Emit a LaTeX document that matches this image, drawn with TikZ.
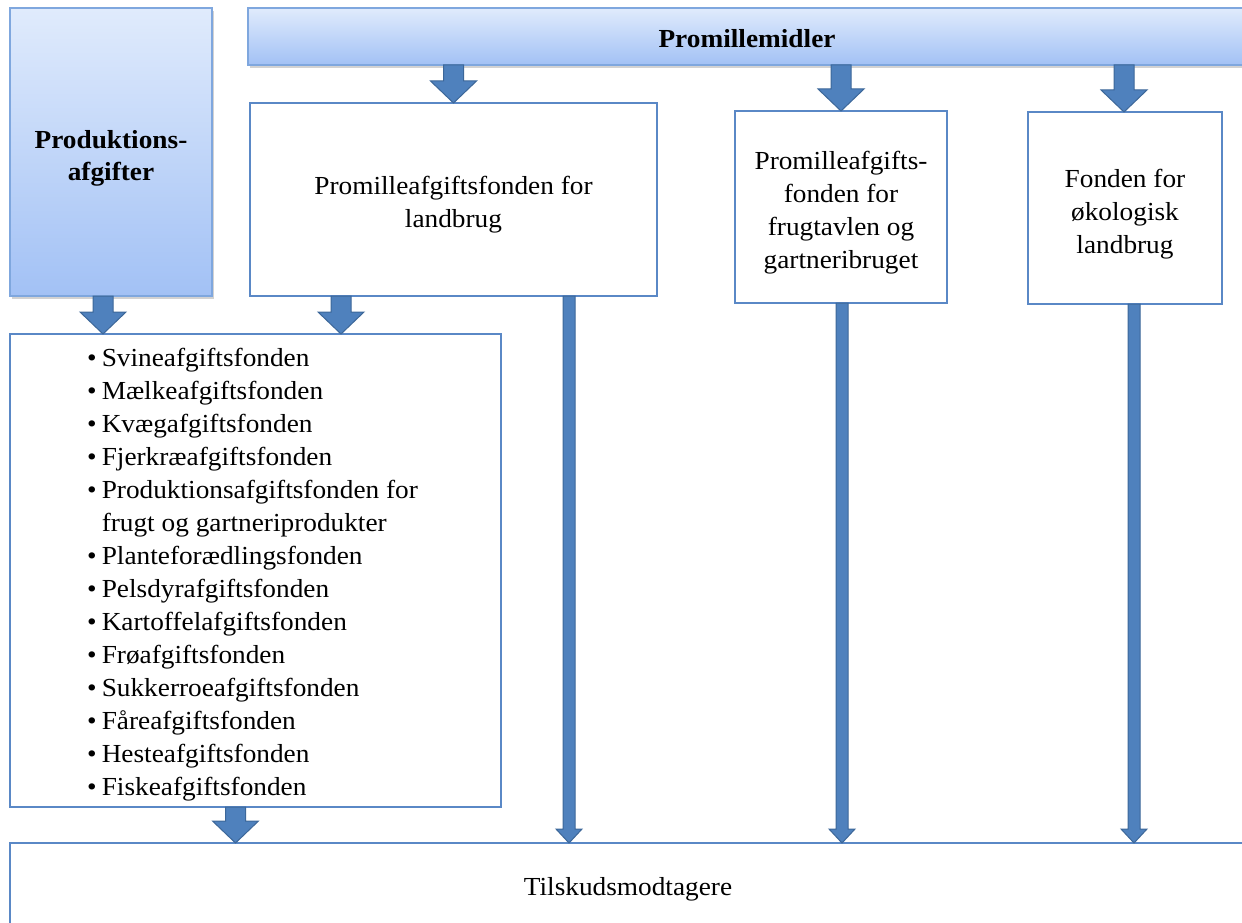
\documentclass[tikz,border=0pt]{standalone}
\usepackage{fontspec}
\setmainfont[FakeStretch=1.05]{Liberation Serif}
\usetikzlibrary{calc,shadows}
\definecolor{afill}{HTML}{4F81BD}
\definecolor{aline}{HTML}{3C6799}
\definecolor{gtop}{HTML}{E0EBFC}
\definecolor{gbot}{HTML}{A2C1F5}
\definecolor{gline}{HTML}{7FA7DE}
\definecolor{bline}{HTML}{5A88C6}
% block arrow: start, end, shaft width, head width, head length
\newcommand\BlkArrow[5]{%
  \path[blkarrow] let \p1=(#1), \p2=(#2) in
    (\x1-#3/2,\y1) -- (\x1-#3/2,\y2+#5) -- (\x1-#4/2,\y2+#5) -- (\x1,\y2)
    -- (\x1+#4/2,\y2+#5) -- (\x1+#3/2,\y2+#5) -- (\x1+#3/2,\y1) -- cycle;}
% text block drawn a little lower than its box centre
\newcommand\Dn[2]{\raisebox{-#1}[\height][\depth]{\begin{tabular}{@{}c@{}}#2\end{tabular}}}
\tikzset{
  every node/.style={font=\fontsize{26}{33}\selectfont},
  blkarrow/.style={fill=afill, draw=aline, line width=1pt},
  gbox/.style={draw=gline, line width=1.2pt, top color=gtop, bottom color=gbot,
    drop shadow={shadow xshift=1.5pt, shadow yshift=-3pt, opacity=0.35},
    inner sep=0pt, outer sep=0pt, align=center, anchor=north west,
    font=\fontsize{26}{32}\selectfont\bfseries},
  wbox/.style={draw=bline, line width=2.6pt, fill=white, inner sep=0pt,
    outer sep=0pt, align=center, anchor=north west}
}
\begin{document}
\begin{tikzpicture}[x=1pt,y=-1pt]
\useasboundingbox (0,0) rectangle (1242,923);
\clip (0,0) rectangle (1242,923);
\fill[white] (0,0) rectangle (1242,923);

\node[gbox, minimum width=202pt, minimum height=288pt] (prod) at (10,8) {\Dn{6pt}{Produktions-\\afgifter}};
\node[gbox, minimum width=998pt, minimum height=57pt] (prom) at (248,8) {\Dn{5pt}{Promillemidler}};

\node[wbox, minimum width=407pt, minimum height=193pt] (land) at (250,103) {\Dn{5pt}{Promilleafgiftsfonden for\\landbrug}};
\node[wbox, minimum width=212pt, minimum height=192pt] (frugt) at (735,111) {\Dn{5pt}{Promilleafgifts-\\fonden for\\frugtavlen og\\gartneribruget}};
\node[wbox, minimum width=194pt, minimum height=192pt] (oko) at (1028,112) {\Dn{6pt}{Fonden for\\økologisk\\landbrug}};
\node[wbox, minimum width=491pt, minimum height=473pt] (list) at (10,334) {};
\node[wbox, minimum width=1236pt, minimum height=88pt] (tilsk) at (10,843) {\Dn{2pt}{Tilskudsmodtagere}};

\node[anchor=north west, inner sep=0pt] (items) at (87,343) {%
\begin{tabular}{@{}l@{\hspace{5pt}}l@{}}
\textbullet & Svineafgiftsfonden\\
\textbullet & Mælkeafgiftsfonden\\
\textbullet & Kvægafgiftsfonden\\
\textbullet & Fjerkræafgiftsfonden\\
\textbullet & Produktionsafgiftsfonden for\\
 & frugt og gartneriprodukter\\
\textbullet & Planteforædlingsfonden\\
\textbullet & Pelsdyrafgiftsfonden\\
\textbullet & Kartoffelafgiftsfonden\\
\textbullet & Frøafgiftsfonden\\
\textbullet & Sukkerroeafgiftsfonden\\
\textbullet & Fåreafgiftsfonden\\
\textbullet & Hesteafgiftsfonden\\
\textbullet & Fiskeafgiftsfonden
\end{tabular}};

% short block arrows
\BlkArrow{$(land.north |- prom.south)$}{land.north}{20pt}{46pt}{22pt}
\BlkArrow{$(frugt.north |- prom.south)$}{frugt.north}{20pt}{46pt}{22pt}
\BlkArrow{$([xshift=-1pt]oko.north |- prom.south)$}{[xshift=-1pt]oko.north}{20pt}{46pt}{22pt}
\BlkArrow{[xshift=-8pt]prod.south}{$([xshift=-8pt]prod.south |- list.north)$}{20pt}{46pt}{22pt}
\BlkArrow{[xshift=91pt]land.south west}{$([xshift=91pt]land.south west |- list.north)$}{20pt}{46pt}{22pt}
\BlkArrow{[xshift=-20pt]list.south}{$([xshift=-20pt]list.south |- tilsk.north)$}{20pt}{46pt}{22pt}
% long arrows
\BlkArrow{[xshift=319pt]land.south west}{$([xshift=319pt]land.south west |- tilsk.north)$}{12pt}{26pt}{14pt}
\BlkArrow{[xshift=1pt]frugt.south}{$([xshift=1pt]frugt.south |- tilsk.north)$}{12pt}{26pt}{14pt}
\BlkArrow{[xshift=9pt]oko.south}{$([xshift=9pt]oko.south |- tilsk.north)$}{12pt}{26pt}{14pt}
\end{tikzpicture}
\end{document}
